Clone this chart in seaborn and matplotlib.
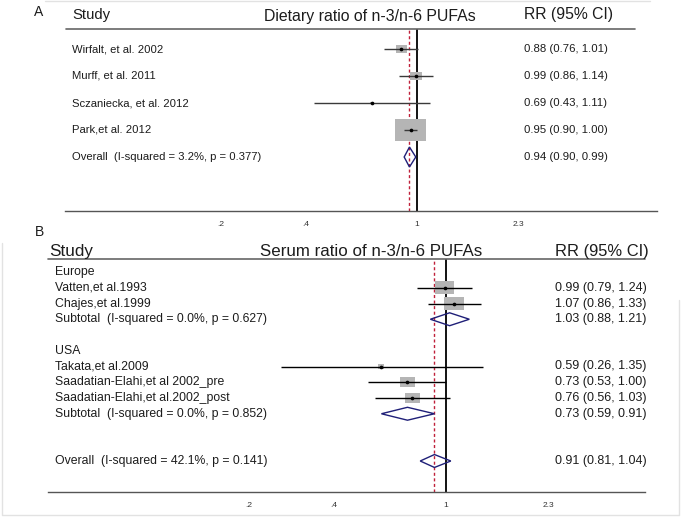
import numpy as np
import matplotlib
matplotlib.use("Agg")
import matplotlib.pyplot as plt
import matplotlib.transforms as mtransforms
import seaborn as sns

# ---------------- data ----------------
# Panel A
labels_a = ["Wirfalt, et al. 2002", "Murff, et al. 2011", "Sczaniecka, et al. 2012",
            "Park,et al. 2012", "Overall  (I-squared = 3.2%, p = 0.377)"]
kind_a = ["study", "study", "study", "study", "overall"]
rr_a = [0.88, 0.99, 0.69, 0.95, 0.94]
lo_a = [0.76, 0.86, 0.43, 0.90, 0.90]
hi_a = [1.01, 1.14, 1.11, 1.00, 0.99]
w_a = [10.7, 10.8, 1.0, 77.5, np.nan]
title_a = "Dietary ratio of n-3/n-6 PUFAs"

# Panel B
labels_b = ["Europe", "Vatten,et al.1993", "Chajes,et al.1999",
            "Subtotal  (I-squared = 0.0%, p = 0.627)", "",
            "USA", "Takata,et al.2009", "Saadatian-Elahi,et al 2002_pre",
            "Saadatian-Elahi,et al.2002_post", "Subtotal  (I-squared = 0.0%, p = 0.852)",
            "", "", "Overall  (I-squared = 42.1%, p = 0.141)"]
kind_b = ["head", "study", "study", "sub", "gap", "head", "study", "study", "study",
          "sub", "gap", "gap", "overall"]
rr_b = [np.nan, 0.99, 1.07, 1.03, np.nan, np.nan, 0.59, 0.73, 0.76, 0.73, np.nan, np.nan, 0.91]
lo_b = [np.nan, 0.79, 0.86, 0.88, np.nan, np.nan, 0.26, 0.53, 0.56, 0.59, np.nan, np.nan, 0.81]
hi_b = [np.nan, 1.24, 1.33, 1.21, np.nan, np.nan, 1.35, 1.00, 1.03, 0.91, np.nan, np.nan, 1.04]
w_b = [np.nan, 28.9, 32.1, np.nan, np.nan, np.nan, 2.9, 18.0, 18.0, np.nan, np.nan, np.nan, np.nan]
title_b = "Serum ratio of n-3/n-6 PUFAs"

tick_vals = [0.2, 0.4, 1, 2.3]
tick_labels = [".2", ".4", "1", "2.3"]

# ---------------- style ----------------
sns.set_style("white")
plt.rcParams["font.family"] = ["Liberation Sans", "DejaVu Sans"]

W, H = 685, 517
fig = plt.figure(figsize=(W / 100, H / 100), dpi=100)
fig.patch.set_facecolor("white")

NAVY = "#1f1f78"
RED = "#c0203a"
BOXC = "#b5b5b5"
TXT = "#1c1c1c"


def fx(x):
    return x / W


def fy(y):
    return 1 - y / H


def panel(rect_px, one_px, px_per_ln, row0_px, row_step, labels, kind, rr, lo, hi, w,
          title, pooled, cfg):
    left, right, top, bottom = rect_px
    ax = fig.add_axes([fx(left), fy(bottom), fx(right) - fx(left), fy(top) - fy(bottom)])
    ax.set_xscale("log")
    ax.set_xlim(np.exp((left - one_px) / px_per_ln), np.exp((right - one_px) / px_per_ln))
    ax.set_ylim((bottom - row0_px) / row_step, (top - row0_px) / row_step)
    ax.patch.set_alpha(0)
    for s in ["top", "left", "right"]:
        ax.spines[s].set_visible(False)
    ax.spines["bottom"].set_color("#555555")
    ax.spines["bottom"].set_linewidth(1.0)
    ax.set_xticks(tick_vals)
    ax.set_xticklabels(tick_labels)
    ax.xaxis.set_minor_locator(matplotlib.ticker.NullLocator())
    ax.tick_params(axis="x", direction="out", length=4, width=0.8, color="#555555",
                   labelsize=6, pad=3, labelcolor="#333333")
    ax.set_yticks([])
    ax.grid(False)

    # header line
    ax.plot([0, cfg["hdr_end"]], [1, 1], transform=ax.transAxes, color="#666666",
            lw=1.2, clip_on=False)
    # reference lines
    ax.axvline(1, color="black", lw=1.3, zorder=1)
    ax.axvline(pooled, color=RED, lw=1.0, dashes=(2.2, 1.8), zorder=1)

    rows = np.arange(len(labels))
    rr = np.asarray(rr, float)
    lo = np.asarray(lo, float)
    hi = np.asarray(hi, float)
    w = np.asarray(w, float)
    kind = np.asarray(kind)

    st = kind == "study"
    # boxes sized by weight
    box_px = 3.53 * np.sqrt(w[st])
    sizes = (box_px / (100 / 72)) ** 2
    verts = [(-0.5, -0.35), (0.5, -0.35), (0.5, 0.35), (-0.5, 0.35), (-0.5, -0.35)]
    ax.scatter(rr[st], rows[st], s=sizes, marker=verts, color=BOXC, linewidths=0,
               zorder=2)
    # whiskers
    ax.hlines(rows[st], lo[st], hi[st], color=cfg["whisk"], lw=1.0, zorder=3)
    # point estimates
    sns.scatterplot(x=rr[st], y=rows[st], ax=ax, s=7, color="black", linewidth=0,
                    zorder=4, legend=False)

    # diamonds
    for i in rows[(kind == "sub") | (kind == "overall")]:
        h = cfg["dh"]
        ax.fill([lo[i], rr[i], hi[i], rr[i], lo[i]], [i, i - h, i, i + h, i],
                facecolor="none", edgecolor=NAVY, lw=1.0, zorder=3)

    # texts
    tr = mtransforms.blended_transform_factory(fig.transFigure, ax.transData)
    for i, lab in enumerate(labels):
        if lab:
            ax.text(fx(cfg["lab_x"]), i, lab, transform=tr, ha="left", va="center",
                    fontsize=cfg["lab_fs"], color=TXT)
        if not np.isnan(rr[i]):
            ax.text(fx(cfg["val_x"]), i, f"{rr[i]:.2f} ({lo[i]:.2f}, {hi[i]:.2f})",
                    transform=tr, ha="left", va="center", fontsize=cfg["val_fs"],
                    color=TXT)
    # header texts
    fig.text(fx(cfg["study_x"]), fy(cfg["hdr_y"]), "Study", ha="left", va="center",
             fontsize=cfg["hdr_fs"], color=TXT)
    fig.text(fx(cfg["title_x"]), fy(cfg["hdr_y"] + cfg["title_dy"]), title, ha="center",
             va="center", fontsize=cfg["title_fs"], color=TXT)
    fig.text(fx(cfg["rr_x"]), fy(cfg["hdr_y"]), "RR (95% CI)", ha="left", va="center",
             fontsize=cfg["rr_fs"], color=TXT)
    return ax


cfg_a = dict(hdr_end=(635 - 65.5) / (657 - 65.5), whisk="#3a3a3a", dh=0.37,
             lab_x=72, lab_fs=8.1, val_x=524, val_fs=8.2,
             study_x=72, hdr_y=15, hdr_fs=10.7, title_x=370, title_dy=2, title_fs=11.4,
             rr_x=524, rr_fs=11.3)
cfg_b = dict(hdr_end=1.0, whisk="black", dh=0.41,
             lab_x=55, lab_fs=8.8, val_x=555, val_fs=9.0,
             study_x=49, hdr_y=251, hdr_fs=12.3, title_x=371, title_dy=0, title_fs=12.2,
             rr_x=555, rr_fs=11.9)

axA = panel((65.5, 657, 29, 211), 417, 121.8, 49, 27, labels_a, kind_a, rr_a, lo_a, hi_a,
            w_a, title_a, rr_a[-1], cfg_a)
axB = panel((48, 645, 259, 492), 446, 122.4, 272, 15.75, labels_b, kind_b, rr_b, lo_b,
            hi_b, w_b, title_b, rr_b[-1], cfg_b)

# panel letters
fig.text(fx(39), fy(12), "A", ha="center", va="center", fontsize=10, color=TXT)
fig.text(fx(39), fy(232), "B", ha="center", va="center", fontsize=10, color=TXT)

# faint frames
frame_c = "#e2e2e2"
fig.add_artist(plt.Line2D([fx(45), fx(650)], [fy(1), fy(1)], color=frame_c, lw=1.0))
fig.add_artist(plt.Line2D([fx(2), fx(2), fx(679), fx(679)],
                          [fy(243), fy(515), fy(515), fy(300)], color=frame_c, lw=1.0))

fig.savefig("out.png", dpi=100, facecolor="white")
